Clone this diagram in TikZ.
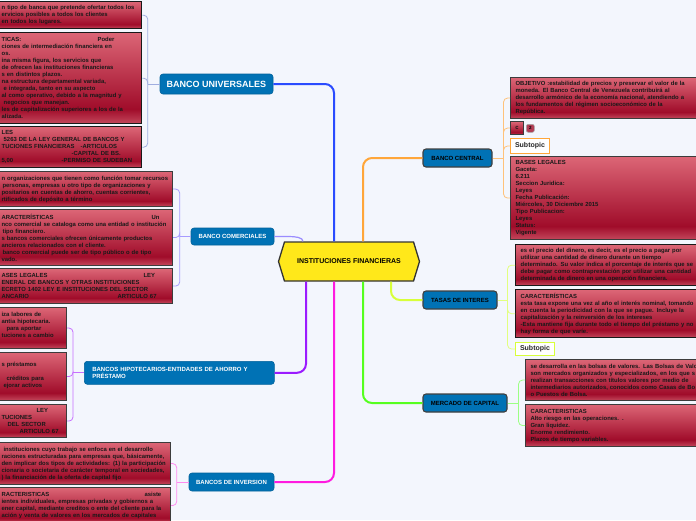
\documentclass[tikz,border=0pt]{standalone}
\usepackage{fontspec}
\setmainfont{Liberation Sans}
\usepackage{xcolor}
\usepackage{tikz}
\usetikzlibrary{calc, shapes.symbols}

\definecolor{bgcol}{HTML}{F3F6FD}
\definecolor{topicblue}{HTML}{0072B5}
\definecolor{rbtop}{HTML}{DC6676}
\definecolor{rbdark}{HTML}{A00C2A}
\definecolor{rbbot}{HTML}{C4485C}
\definecolor{boxline}{HTML}{3C3C3C}
\definecolor{coreyellow}{HTML}{FFE81A}
\definecolor{mainblue}{HTML}{2A4BFF}
\definecolor{mainlav}{HTML}{9A8CFF}
\definecolor{mainpurple}{HTML}{9B1BFF}
\definecolor{mainmagenta}{HTML}{FF1BE0}
\definecolor{maingreen}{HTML}{55FF1F}
\definecolor{mainlime}{HTML}{D8FF3A}
\definecolor{mainorange}{HTML}{FFA63A}
\definecolor{twuni}{HTML}{A0AEE0}
\definecolor{twcom}{HTML}{A79BFF}
\definecolor{twhip}{HTML}{C770FF}
\definecolor{twinv}{HTML}{FF8CF0}
\definecolor{twcen}{HTML}{FFC27A}
\definecolor{twtas}{HTML}{E2FF80}
\definecolor{twmer}{HTML}{9CFF85}

\pgfdeclareverticalshading{redfill}{100bp}{color(0bp)=(rbbot); color(25bp)=(rbbot); color(33bp)=(rbdark); color(75bp)=(rbtop); color(100bp)=(rbtop)}

\newcommand\boxfont{\fontsize{5.9}{7}\selectfont\bfseries}
\newcommand\topicfont{\fontsize{6}{7}\selectfont\bfseries}

\tikzset{
  redbox/.style={shading=redfill, draw=boxline, line width=1.1pt, text=black!90,
    font=\boxfont, align=left, inner xsep=5pt, inner ysep=1pt, anchor=north west,
    execute at begin node={\hyphenpenalty=10000\exhyphenpenalty=10000}},
  darkedge/.style={draw=black!90, line width=1.4pt},
  topicL/.style={fill=topicblue, draw=topicblue!85!black, line width=0.6pt,
    rounded corners=3pt, text=white, font=\topicfont},
  topicR/.style={fill=topicblue, draw=black!75, line width=1.1pt,
    rounded corners=3pt, text=black, font=\topicfont},
  subtopic/.style={fill=white, draw=#1, line width=1pt, text=black!85,
    font=\fontsize{7}{8}\selectfont\bfseries, anchor=north west, inner sep=0pt},
  branch/.style={line width=2pt, rounded corners=9pt},
  twig/.style={line width=0.8pt, rounded corners=4pt},
}

\begin{document}
\begin{tikzpicture}[x=1pt, y=-1pt, >=latex]
    % Fondo
    \useasboundingbox (0,0) rectangle (696,520);
    \fill[bgcol] (0,0) rectangle (696,520);
    \clip (0,0) rectangle (696,520);

    % Tema central y temas principales
    \node[shape=signal, signal to=west and east, signal pointer angle=146,
        fill=coreyellow, draw=black!80, line width=1.3pt, minimum width=141pt,
        minimum height=39pt, inner sep=0pt, font=\fontsize{7}{8}\selectfont\bfseries]
        (inst) at (349,261.5) {INSTITUCIONES FINANCIERAS};
    \node[topicL, minimum width=113pt, minimum height=20pt,
        font=\fontsize{9}{10}\selectfont\bfseries] (buni) at (216.5,84) {BANCO UNIVERSALES};
    \node[topicL, minimum width=83pt, minimum height=17pt] (bcom) at (232.5,236.5) {BANCO COMERCIALES};
    \node[topicL, minimum width=190pt, minimum height=23pt, text width=174pt, align=left,
        anchor=north west, inner xsep=8pt] (bhip) at (84,361)
        {BANCOS HIPOTECARIOS-ENTIDADES DE AHORRO Y\\PRÉSTAMO};
    \node[topicL, minimum width=85pt, minimum height=18pt] (binv) at (231.5,482) {BANCOS DE INVERSION};
    \node[topicR, minimum width=69pt, minimum height=18pt] (bcen) at (457.5,158) {BANCO CENTRAL};
    \node[topicR, minimum width=74pt, minimum height=18pt] (tasa) at (460,300) {TASAS DE INTERES};
    \node[topicR, minimum width=84pt, minimum height=18pt] (merc) at (465,403) {MERCADO DE CAPITAL};

    % Ramas principales
    \coordinate (xa) at (334,0);
    \coordinate (xb) at (363,0);
    \coordinate (xp) at (306,0);
    \coordinate (xc) at (303,0);
    \coordinate (xt) at (391,0);
    \draw[branch, mainblue] (inst.north -| xa) |- (buni.east);
    \draw[branch, mainorange] (inst.north -| xb) |- (bcen.west);
    \draw[branch, mainpurple] (inst.south -| xp) |- (bhip.east);
    \draw[branch, mainmagenta] (inst.south -| xa) |- (binv.east);
    \draw[branch, maingreen] (inst.south -| xb) |- (merc.west);
    \draw[branch, mainlime] (inst.south -| xt) |- (tasa.west);
    \draw[line width=1.2pt, mainlav] (bcom.east) -- ++(14,0)
        .. controls +(7,0) and +(0,-4) .. (inst.north -| xc);

    % BANCO UNIVERSALES
    \node[redbox, darkedge, minimum width=145pt, minimum height=27pt, text width=135pt] (u1) at (-4,1)
        {n tipo de banca que pretende ofertar todos los\\
         ervicios posibles a todos los clientes\\
         en todos los lugares.};
    \node[redbox, darkedge, minimum width=145pt, minimum height=91pt, text width=135pt] (u2) at (-4,32)
        {\makebox[96pt][l]{TICAS:}Poder\\
         ciones de intermediación financiera en\\
         os.\\
         ina misma figura, los servicios que\\
         de ofrecen las instituciones financieras\\
         s en distintos plazos.\\
         na estructura departamental variada,\\
         \hspace*{2pt}e integrada, tanto en su aspecto\\
         al como operativo, debido a la magnitud y\\
         \hspace*{2pt}negocios que manejan.\\
         \mbox{les de capitalización superiores a los de la}\\
         alizada.};
    \node[redbox, darkedge, minimum width=145pt, minimum height=41pt, text width=135pt] (u3) at (-4,126)
        {LES\\
         \hspace*{2pt}5263 DE LA LEY GENERAL DE BANCOS Y\\
         \makebox[79pt][l]{TUCIONES FINANCIERAS}-ARTICULOS\\
         \hspace*{70pt}-CAPITAL DE BS.\\
         \makebox[60pt][l]{5,00}-PERMISO DE SUDEBAN};

    % BANCO COMERCIALES
    \node[redbox, minimum width=176pt, minimum height=35pt, text width=166pt] (c1) at (-4,171)
        {\mbox{n organizaciones que tienen como función tomar recursos}\\
         \hspace*{1pt}personas, empresas u otro tipo de organizaciones y\\
         positarios en cuentas de ahorro, cuentas corrientes,\\
         rtificados de depósito a término};
    \node[redbox, minimum width=176pt, minimum height=56pt, text width=166pt] (c2) at (-4,209)
        {\makebox[150pt][l]{ARACTERÍSTICAS}Un\\
         \mbox{nco comercial se cataloga como una entidad o institución}\\
         \hspace*{1pt}tipo financiero.\\
         s bancos comerciales ofrecen únicamente productos\\
         ancieros relacionados con el cliente.\\
         \hspace*{1pt}banco comercial puede ser de tipo público o de tipo\\
         vado.};
    \node[redbox, minimum width=176pt, minimum height=35pt, text width=166pt] (c3) at (-4,268)
        {\makebox[142pt][l]{ASES LEGALES}LEY\\
         ENERAL DE BANCOS Y OTRAS INSTITUCIONES\\
         ECRETO 1402 LEY E INSTITUCIONES DEL SECTOR\\
         \makebox[116pt][l]{ANCARIO}ARTICULO 67};

    % BANCOS HIPOTECARIOS
    \node[redbox, minimum width=70pt, minimum height=41pt, text width=60pt] (h1) at (-4,307)
        {iza labores de\\
         antia hipotecaria.\\
         \hspace*{5pt}para aportar\\
         tuciones a cambio\\
         \mbox{}};
    \node[redbox, minimum width=70pt, minimum height=48pt, text width=60pt] (h2) at (-4,352)
        {\mbox{}\\
         s préstamos\\
         \mbox{}\\
         \hspace*{5pt}créditos para\\
         \hspace*{2pt}ejorar activos\\
         \mbox{}};
    \node[redbox, minimum width=70pt, minimum height=33pt, text width=60pt] (h3) at (-4,404)
        {\hspace*{35pt}LEY\\
         TUCIONES\\
         \hspace*{6pt}DEL SECTOR\\
         \hspace*{18pt}ARTICULO 67};

    % BANCOS DE INVERSION
    \node[redbox, minimum width=174pt, minimum height=42pt, text width=164pt] (i1) at (-4,442)
        {\hspace*{2pt}instituciones cuyo trabajo se enfoca en el desarrollo\\
         \mbox{raciones estructuradas para empresas que, básicamente,}\\
         \mbox{den implicar dos tipos de actividades: (1) la participación}\\
         \mbox{cionaria o societaria de carácter temporal en sociedades,}\\
         ) la financiación de la oferta de capital fijo};
    \node[redbox, minimum width=174pt, minimum height=36pt, text width=164pt] (i2) at (-4,487)
        {\makebox[143pt][l]{RACTERISTICAS}asiste\\
         \mbox{ientes individuales, empresas privadas y gobiernos a}\\
         \mbox{ener capital, mediante creditos o ente del cliente para la}\\
         \mbox{ación y venta de valores en los mercados de capitales}};

    % BANCO CENTRAL
    \node[redbox, minimum width=220pt, minimum height=41pt, text width=210pt] (bc1) at (510,77)
        {OBJETIVO :estabilidad de precios y preservar el valor de la\\
         moneda. El Banco Central de Venezuela contribuirá al\\
         desarrollo armónico de la economía nacional, atendiendo a\\
         los fundamentos del régimen socioeconómico de la\\
         República.};
    \node[redbox, minimum width=13pt, minimum height=13pt, inner sep=0pt, align=center] (bc2) at (510,121) {c};
    \node[fill=rbdark!80!white, draw=black!35, line width=0.6pt, rounded corners=2pt,
        minimum width=8pt, minimum height=8pt, inner sep=0pt, anchor=north west,
        font=\fontsize{4.5}{5}\selectfont\bfseries] (bcn) at (526,124) {2};
    \node[subtopic=mainorange, minimum width=39pt, minimum height=15pt] (bcs) at (510,138) {Subtopic};
    \node[redbox, minimum width=220pt, minimum height=83pt, text width=210pt] (bc3) at (510,156)
        {BASES LEGALES\\
         Gaceta:\\
         6.211\\
         Seccion Juridica:\\
         Leyes\\
         Fecha Publicación:\\
         Miércoles, 30 Diciembre 2015\\
         Tipo Publicacion:\\
         Leyes\\
         Status:\\
         Vigente};

    % TASAS DE INTERES
    \node[redbox, darkedge, minimum width=220pt, minimum height=41pt, text width=210pt] (t1) at (515,244)
        {es el precio del dinero, es decir, es el precio a pagar por\\
         utilizar una cantidad de dinero durante un tiempo\\
         determinado. Su valor indica el porcentaje de interés que se\\
         debe pagar como contraprestación por utilizar una cantidad\\
         determinada de dinero en una operación financiera.};
    \node[redbox, darkedge, minimum width=220pt, minimum height=48pt, text width=210pt] (t2) at (515,289)
        {CARACTERÍSTICAS\\
         esta tasa expone una vez al año el interés nominal, tomando\\
         en cuenta la periodicidad con la que se pague. Incluye la\\
         capitalización y la reinversión de los intereses\\
         -Esta mantiene fija durante todo el tiempo del préstamo y no\\
         hay forma de que varíe.};
    \node[subtopic=mainlime, minimum width=39pt, minimum height=13pt] (ts) at (515,342) {Subtopic};

    % MERCADO DE CAPITAL
    \node[redbox, minimum width=220pt, minimum height=41pt, text width=210pt] (m1) at (525,359)
        {se desarrolla en las bolsas de valores. Las Bolsas de Valo\\
         son mercados organizados y especializados, en los que s\\
         realizan transacciones con títulos valores por medio de\\
         intermediarios autorizados, conocidos como Casas de Bo\\
         o Puestos de Bolsa.};
    \node[redbox, minimum width=220pt, minimum height=42pt, text width=210pt] (m2) at (525,404)
        {CARACTERISTICAS\\
         Alto riesgo en las operaciones. .\\
         Gran liquidez.\\
         Enorme rendimiento.\\
         Plazos de tiempo variables.};

    % Ramas secundarias
    \coordinate (fu) at ($(buni.west)+(-12,0)$);
    \coordinate (fc) at ($(bcom.west)+(-11,0)$);
    \coordinate (fh) at ($(bhip.west)+(-11,0)$);
    \coordinate (fi) at ($(binv.west)+(-12,0)$);
    \coordinate (fb) at ($(bcen.east)+(11,0)$);
    \coordinate (ft) at ($(tasa.east)+(10,0)$);
    \coordinate (fm) at ($(merc.east)+(11,0)$);
    \draw[twig, twuni] (buni.west) -- (fu);
    \foreach \b in {u1,u2,u3} \draw[twig, twuni] (fu) |- (\b.east);
    \draw[twig, twcom] (bcom.west) -- (fc);
    \foreach \b in {c1,c2,c3} \draw[twig, twcom] (fc) |- (\b.east);
    \draw[twig, twhip] (bhip.west) -- (fh);
    \foreach \b in {h1,h2,h3} \draw[twig, twhip] (fh) |- (\b.east);
    \draw[twig, twinv] (binv.west) -- (fi);
    \foreach \b in {i1,i2} \draw[twig, twinv] (fi) |- (\b.east);
    \draw[twig, twcen] (bcen.east) -- (fb);
    \foreach \b in {bc1,bc2,bcs,bc3} \draw[twig, twcen] (fb) |- (\b.west);
    \draw[twig, twtas] (tasa.east) -- (ft);
    \foreach \b in {t1,t2,ts} \draw[twig, twtas] (ft) |- (\b.west);
    \draw[twig, twmer] (merc.east) -- (fm);
    \foreach \b in {m1,m2} \draw[twig, twmer] (fm) |- (\b.west);
\end{tikzpicture}
\end{document}
